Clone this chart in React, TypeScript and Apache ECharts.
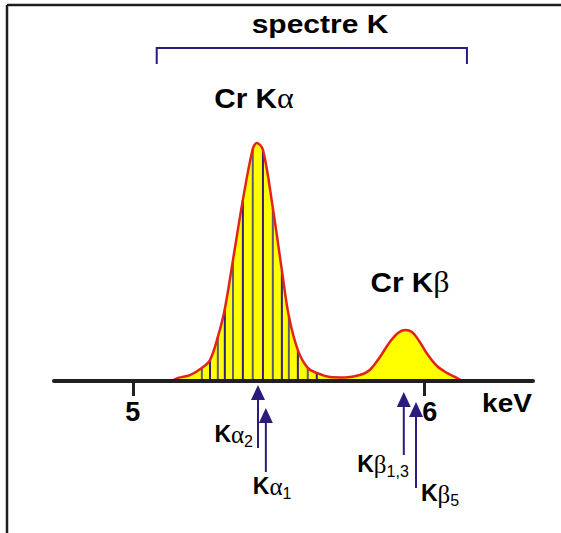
import React, { useEffect, useRef } from 'react';
import * as echarts from 'echarts';

// Cr K emission profile: energy (keV) and intensity normalised to the Kα maximum
const energyKeV = [
  5.134, 5.155, 5.196, 5.237, 5.265, 5.292, 5.316, 5.344, 5.378, 5.412, 5.426,
  5.447, 5.481, 5.512, 5.536, 5.567, 5.601, 5.632, 5.677, 5.729, 5.78, 5.814,
  5.849, 5.883, 5.911, 5.935, 5.959, 5.986, 6.014, 6.045, 6.079, 6.107, 6.131,
];
const intensity = [
  0, 1.3, 2.5, 5.5, 8.8, 18.5, 30.3, 50.8, 76.1, 97.5, 100,
  97.1, 72.7, 46.6, 27.3, 13.0, 5.5, 3.4, 1.7, 1.5, 2.5, 4.6,
  10.1, 16.4, 20.2, 21.4, 20.6, 16.4, 10.9, 6.3, 3.4, 1.7, 0,
];

// energies at which the Kα peak is hatched (points of the profile above)
const hatchKeV = [
  5.237, 5.265, 5.292, 5.316, 5.344, 5.378, 5.412, 5.447, 5.481, 5.512,
  5.536, 5.567, 5.601, 5.632,
];

// emission lines marked with arrows under the axis
const lineKeV = [5.43, 5.457, 5.931, 5.973];
const lineGreek = ['α', 'α', 'β', 'β'];
const lineSub = ['2', '1', '1,3', '5'];

// axis ticks and the energy range of the K spectrum bracket
const tickKeV = [5, 6];
const bracketKeV = [5.082, 6.148];

// arrow drawing: tip and tail below the axis, label offset and alignment
const arrowLayout = [
  { tip: 4, tail: 67, dx: -5, dy: 41, align: 'right' },
  { tip: 27, tail: 91, dx: -13, dy: 93, align: 'left' },
  { tip: 11, tail: 74, dx: 5, dy: 71, align: 'right' },
  { tip: 21, tail: 107, dx: 5, dy: 100.5, align: 'left' },
];

const INK = '#231f20';
const INDIGO = '#2c1b7c';
const SANS = '"Liberation Sans", Arial, sans-serif';
const SERIF = '"Liberation Serif", "Times New Roman", serif';

export default function App() {
  const ref = useRef<HTMLDivElement>(null);

  useEffect(() => {
    if (!ref.current) return;
    const chart = echarts.init(ref.current, null, { renderer: 'svg' });
    const profile = energyKeV.map((e, i) => [e, intensity[i]]);
    const hatch = hatchKeV.map((e) => [e, intensity[energyKeV.indexOf(e)]]);

    chart.setOption({
      animation: false,
      backgroundColor: '#ffffff',
      grid: { left: 54, right: 28, top: 143, bottom: 152, containLabel: false },
      xAxis: {
        type: 'value',
        min: 4.729,
        max: 6.375,
        z: 10,
        axisLine: { show: true, onZero: false, lineStyle: { color: INK, width: 4 } },
        axisTick: {
          show: true,
          customValues: tickKeV,
          length: 15,
          lineStyle: { color: INK, width: 3 },
        },
        axisLabel: {
          customValues: tickKeV,
          margin: 17,
          color: '#000',
          fontSize: 27,
          fontWeight: 'bold',
          fontFamily: SANS,
          formatter: (v: number) => (v >= 6 ? `{r|${v}}` : `${v}`),
          rich: {
            r: {
              color: '#000',
              fontSize: 27,
              fontWeight: 'bold',
              fontFamily: SANS,
              padding: [0, 0, 0, 12],
            },
          },
        },
        splitLine: { show: false },
      },
      yAxis: { type: 'value', min: 0, max: 100, show: false },
      graphic: [
        { type: 'line', shape: { x1: 7, y1: 5, x2: 561, y2: 5 }, style: { stroke: '#1e1e1e', lineWidth: 2.5 } },
        { type: 'line', shape: { x1: 7, y1: 5, x2: 7, y2: 533 }, style: { stroke: '#1e1e1e', lineWidth: 2.5 } },
        {
          type: 'text', x: 320, y: 24, scaleX: 1.2,
          style: { text: 'spectre K', align: 'center', verticalAlign: 'middle', fill: '#000', fontSize: 25, fontWeight: 'bold', fontFamily: SANS },
        },
        {
          type: 'text', x: 254, y: 98, scaleX: 1.1,
          style: {
            text: '{c|Cr K}{g|α}', align: 'center', verticalAlign: 'middle',
            rich: {
              c: { fill: '#000', fontSize: 27, fontWeight: 'bold', fontFamily: SANS },
              g: { fill: '#000', fontSize: 29, fontFamily: SERIF },
            },
          },
        },
        {
          type: 'text', x: 410, y: 282, scaleX: 1.1,
          style: {
            text: '{c|Cr K}{g|β}', align: 'center', verticalAlign: 'middle',
            rich: {
              c: { fill: '#000', fontSize: 27, fontWeight: 'bold', fontFamily: SANS },
              g: { fill: '#000', fontSize: 29, fontFamily: SERIF },
            },
          },
        },
        {
          type: 'text', x: 507, y: 404, scaleX: 1.12,
          style: { text: 'keV', align: 'center', verticalAlign: 'middle', fill: '#000', fontSize: 25, fontWeight: 'bold', fontFamily: SANS },
        },
      ],
      series: [
        {
          type: 'line',
          data: profile,
          smooth: 0.35,
          symbol: 'none',
          clip: false,
          z: 1,
          lineStyle: { width: 0 },
          areaStyle: { color: '#ffff00', opacity: 1 },
        },
        {
          type: 'custom',
          data: hatch,
          z: 2,
          clip: false,
          renderItem: (params: any, api: any) => {
            const x = api.value(0);
            const p0 = api.coord([x, 0]);
            const p1 = api.coord([x, api.value(1)]);
            return {
              type: 'line',
              shape: { x1: p0[0], y1: p0[1], x2: p1[0], y2: p1[1] },
              style: { stroke: params.dataIndex % 2 ? '#2f2070' : '#5f5a6e', lineWidth: 2 },
            };
          },
        },
        {
          type: 'line',
          data: profile,
          smooth: 0.35,
          symbol: 'none',
          clip: false,
          z: 3,
          lineStyle: { color: '#e3231b', width: 2.5 },
        },
        {
          type: 'custom',
          data: lineKeV.map((e) => [e, 0]),
          z: 4,
          clip: false,
          renderItem: (params: any, api: any) => {
            const i = params.dataIndex;
            const L = arrowLayout[i];
            const [x, y0] = api.coord([api.value(0), 0]);
            const head = 15;
            return {
              type: 'group',
              children: [
                {
                  type: 'line',
                  shape: { x1: x, y1: y0 + L.tip + head - 1, x2: x, y2: y0 + L.tail },
                  style: { stroke: INDIGO, lineWidth: 2 },
                },
                {
                  type: 'polygon',
                  shape: { points: [[x, y0 + L.tip], [x - 7, y0 + L.tip + head], [x + 7, y0 + L.tip + head]] },
                  style: { fill: INDIGO },
                },
                {
                  type: 'text',
                  x: x + L.dx,
                  y: y0 + L.dy,
                  style: {
                    text: `{k|K}{g|${lineGreek[i]}}{s|${lineSub[i]}}`,
                    align: L.align,
                    verticalAlign: 'top',
                    rich: {
                      k: { fill: '#000', fontSize: 23, fontWeight: 'bold', fontFamily: SANS, lineHeight: 22, verticalAlign: 'top' },
                      g: { fill: '#000', fontSize: 25, fontFamily: SERIF, lineHeight: 22, verticalAlign: 'top' },
                      s: { fill: '#000', fontSize: 16, fontFamily: SANS, lineHeight: 38 },
                    },
                  },
                },
              ],
            };
          },
        },
        {
          type: 'custom',
          data: [bracketKeV],
          z: 4,
          clip: false,
          renderItem: (params: any, api: any) => {
            const a = api.coord([api.value(0), 0])[0];
            const b = api.coord([api.value(1), 0])[0];
            return {
              type: 'polyline',
              shape: { points: [[a, 64], [a, 48], [b, 48], [b, 64]] },
              style: { stroke: INDIGO, lineWidth: 2, fill: null },
            };
          },
        },
      ],
    });

    return () => chart.dispose();
  }, []);

  return (
    <div
      ref={ref}
      style={{ position: 'fixed', left: 0, top: 0, width: 561, height: 533 }}
    />
  );
}
